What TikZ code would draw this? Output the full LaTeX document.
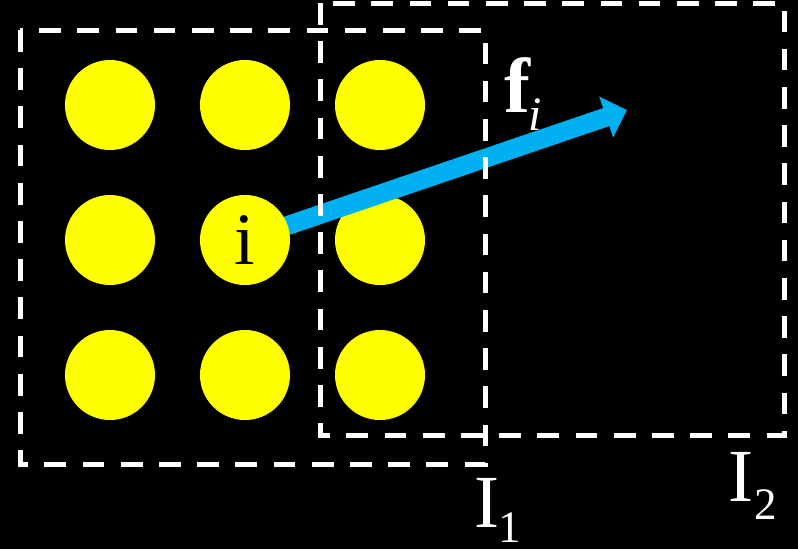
\documentclass[tikz,border=0pt]{standalone}
\usepackage{fontspec}
\setmainfont{Liberation Serif}
\usetikzlibrary{arrows.meta}
\definecolor{dotyellow}{RGB}{255,255,0}
\definecolor{arrowblue}{RGB}{0,176,240}
\tikzset{
  dot/.style={circle, fill=dotyellow, minimum size=90pt, inner sep=0pt, text=black,
    font=\fontsize{74}{74}\selectfont},
  region/.style={draw=white, line width=5pt, dash pattern=on 21.7pt off 16.5pt},
  force/.style={draw=arrowblue, line width=19pt,
    -{Triangle[length=22pt, width=42pt, fill=arrowblue]}},
  bigtxt/.style={text=white, inner sep=0pt, anchor=base, font=\fontsize{75}{75}\selectfont},
  subtxt/.style={text=white, inner sep=0pt, anchor=base, font=\fontsize{45}{45}\selectfont},
}
\begin{document}
\begin{tikzpicture}[x=1pt, y=-1pt]
\fill[black] (0,0) rectangle (798,549);
\useasboundingbox (0,0) rectangle (798,549);
% dots
\node[dot] (c11) at (110,105) {};
\node[dot] (c12) at (245,105) {};
\node[dot] (c13) at (380,105) {};
\node[dot] (c21) at (110,240) {};
\node[dot] (c23) at (380,240) {};
\node[dot] (c31) at (110,375) {};
\node[dot] (c32) at (245,375) {};
\node[dot] (c33) at (380,375) {};
% arrow
\coordinate (ic) at (245,240);
\coordinate (tip) at (627,110);
\draw[force] (ic) -- (tip);
\node[dot] (c22) at (ic) {i};
% regions
\draw[region] (20,30) rectangle (485,464);
\draw[region] (320,3) rectangle (784,435);
% labels
\node[bigtxt, anchor=base west, font=\fontsize{78}{78}\selectfont] (fl) at (504,112) {\bfseries f};
\node[subtxt, anchor=base west, font=\fontsize{48}{48}\selectfont\itshape] (fs) at (528,130) {i};
\node[bigtxt] (i1) at (487,527) {I};
\node[subtxt] (i1s) at (510,542) {1};
\node[bigtxt] (i2) at (741,501) {I};
\node[subtxt] (i2s) at (766,519) {2};
\end{tikzpicture}
\end{document}
